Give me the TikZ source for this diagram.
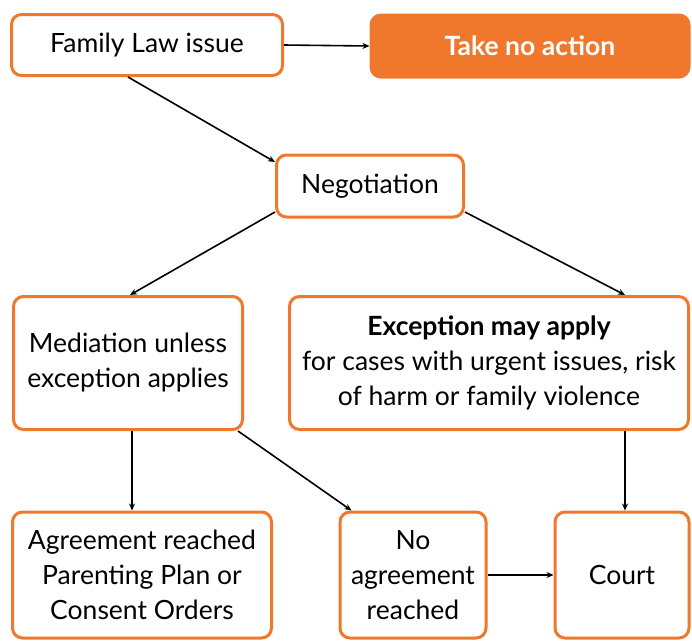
\documentclass[tikz,border=0pt]{standalone}
\usepackage{fontspec}
\setmainfont{Lato}
\usepackage{xcolor}
\usepackage{tikz}
\usetikzlibrary{arrows.meta}
\definecolor{lawor}{RGB}{239,120,44}

\begin{document}
\begin{tikzpicture}[x=1pt,y=-1pt,>={Stealth[length=7pt,width=6pt]},
  box/.style={draw=lawor,line width=3pt,rounded corners=10pt,fill=white,align=center,
    font=\fontsize{26.5}{35}\selectfont,inner sep=0pt},
  link/.style={->,line width=1.6pt,black}]
  \useasboundingbox (0,0) rectangle (692,641);
  \node[box,minimum width=271pt,minimum height=61pt] (fam) at (147,45) {Family Law issue};
  \node[box,fill=lawor,text=white,font=\fontsize{26.5}{35}\selectfont\bfseries,minimum width=318pt,minimum height=62pt] (none) at (530,46) {Take no action};
  \node[box,minimum width=187pt,minimum height=62pt] (neg) at (370,186) {Negotiation};
  \node[box,minimum width=229pt,minimum height=133pt] (med) at (128,363) {Mediation unless\\exception applies};
  \node[box,minimum width=399pt,minimum height=133pt] (exc) at (489,363) {\textbf{Exception may apply}\\for cases with urgent issues, risk\\of harm or family violence};
  \node[box,minimum width=259pt,minimum height=126pt] (agr) at (142,575) {Agreement reached\\Parenting Plan or\\Consent Orders};
  \node[box,minimum width=146pt,minimum height=126pt] (noag) at (413,575) {No\\agreement\\reached};
  \node[box,minimum width=134pt,minimum height=126pt] (court) at (622,575) {Court};
  \draw[link] (fam.east) -- (none.west);
  \draw[link] ([xshift=-19pt]fam.south) -- ([yshift=24pt]neg.west);
  \draw[link] ([yshift=-26pt]neg.west) -- ([xshift=2pt]med.north);
  \draw[link] ([yshift=-26pt]neg.east) -- ([xshift=136pt]exc.north);
  \draw[link] ([xshift=4pt]med.south) -- ([xshift=4pt]med.south |- agr.north);
  \draw[link] ([xshift=-6pt]med.south east) -- ([xshift=13pt]noag.north west);
  \draw[link] ([xshift=136pt]exc.south) -- ([xshift=136pt]exc.south |- court.north);
  \draw[link] (noag.east) -- (court.west);
\end{tikzpicture}
\end{document}
